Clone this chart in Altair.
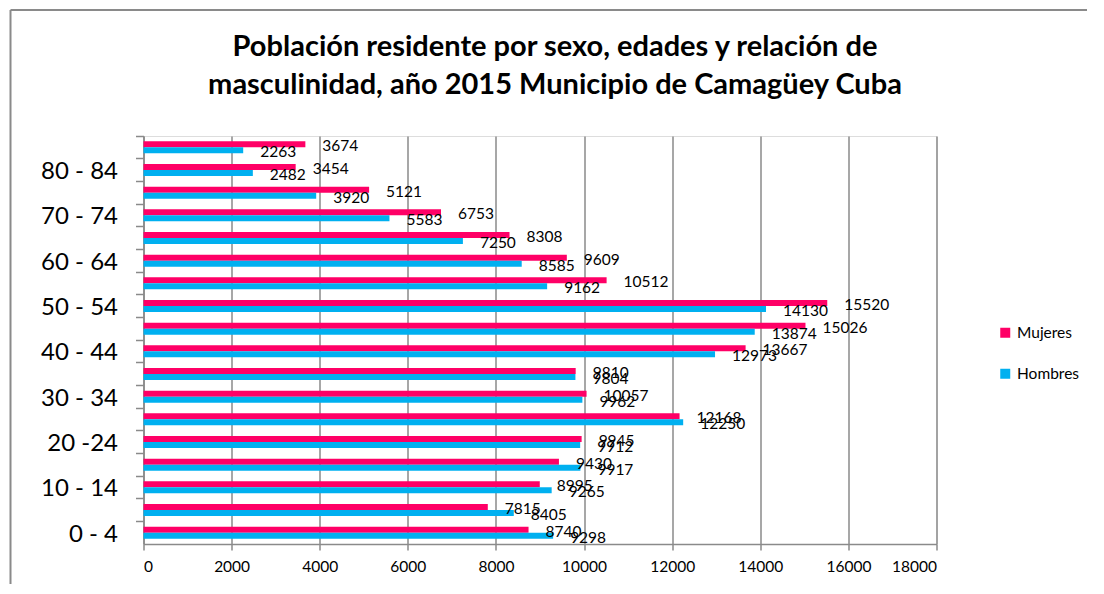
import altair as alt
import pandas as pd

# Age groups, bottom to top
edades = ["0 - 4", "5 - 9", "10 - 14", "15 - 19", "20 -24", "25 - 29", "30 - 34",
          "35 - 39", "40 - 44", "45 - 49", "50 - 54", "55 - 59", "60 - 64",
          "65 - 69", "70 - 74", "75 - 79", "80 - 84", "85 y más"]
mujeres = [8740, 7815, 8995, 9430, 9945, 12168, 10057, 9810, 13667, 15026,
           15520, 10512, 9609, 8308, 6753, 5121, 3454, 3674]
hombres = [9298, 8405, 9265, 9917, 9912, 12250, 9962, 9804, 12973, 13874,
           14130, 9162, 8585, 7250, 5583, 3920, 2482, 2263]
etiquetas_visibles = ["0 - 4", "10 - 14", "20 -24", "30 - 34", "40 - 44",
                      "50 - 54", "60 - 64", "70 - 74", "80 - 84"]
series = ["Mujeres", "Hombres"]
colores = ["#FF0066", "#00B0F0"]
ticks_x = [0, 2000, 4000, 6000, 8000, 10000, 12000, 14000, 16000, 18000]

rows = []
for e, m, h in zip(edades, mujeres, hombres):
    rows.append({"edad": e, "sexo": "Mujeres", "valor": m})
    rows.append({"edad": e, "sexo": "Hombres", "valor": h})
df = pd.DataFrame(rows)

FONT = "Lato"
orden_y = list(reversed(edades))
label_expr = "indexof(" + str(etiquetas_visibles) + ", datum.value) >= 0 ? datum.label : ''"

x_enc = alt.X("valor:Q",
              scale=alt.Scale(domain=[0, 18000], nice=False),
              axis=alt.Axis(values=ticks_x, title=None, format="d",
                            grid=True, gridColor="#8a8a8a", gridWidth=1.5,
                            domainColor="#8a8a8a", domainWidth=1.5,
                            tickColor="#8a8a8a", tickWidth=1.5, tickSize=6,
                            labelFont=FONT, labelFontSize=15.5, labelColor="#000",
                            labelPadding=9))
y_enc = alt.Y("edad:N", sort=orden_y,
              scale=alt.Scale(paddingInner=0, paddingOuter=0),
              axis=alt.Axis(title=None, labelExpr=label_expr, bandPosition=0,
                            labelOffset=2, tickSize=8, tickColor="#8a8a8a",
                            tickWidth=1.5, domainColor="#8a8a8a", domainWidth=1.5,
                            labelFont=FONT, labelFontSize=24, labelColor="#000",
                            labelPadding=18, grid=False))
yoff = alt.YOffset("sexo:N", sort=series,
                   scale=alt.Scale(paddingInner=0, paddingOuter=0.9))

bars = alt.Chart(df).mark_bar().encode(
    x=x_enc, y=y_enc, yOffset=yoff,
    color=alt.Color("sexo:N", sort=series,
                    scale=alt.Scale(domain=series, range=colores),
                    legend=alt.Legend(title=None, orient="none", legendX=854,
                                      legendY=189, symbolType="square",
                                      symbolSize=100, symbolStrokeWidth=0,
                                      labelFont=FONT, labelFontSize=15.5,
                                      labelColor="#000", rowPadding=24,
                                      labelOffset=4)),
)

labels = alt.Chart(df).mark_text(align="left", baseline="middle", dx=17, dy=2,
                                 font=FONT, fontSize=15.5, color="#000").encode(
    x="valor:Q", y=alt.Y("edad:N", sort=orden_y), yOffset=alt.YOffset("sexo:N", sort=series),
    text=alt.Text("valor:Q", format="d"),
)

# chart-area border (left and top edges, as in the reference)
frame_df = pd.DataFrame({"k": [0]})
frame_left = alt.Chart(frame_df).mark_rule(color="#8a8a8a", strokeWidth=2).encode(
    x=alt.value(-133), y=alt.value(-126), y2=alt.value(700))
frame_top = alt.Chart(frame_df).mark_rule(color="#8a8a8a", strokeWidth=2).encode(
    x=alt.value(-133), x2=alt.value(1200), y=alt.value(-126))

chart = alt.layer(frame_left, frame_top, bars, labels).properties(
    width=793, height=408,
    autosize=alt.AutoSizeParams(type="none"),
    padding={"left": 135.5, "top": 128, "right": 150, "bottom": 40},
    title=alt.TitleParams(
        ["Población residente por sexo, edades y relación de",
         "masculinidad, año 2015 Municipio de Camagüey Cuba"],
        font=FONT, fontSize=29, fontWeight="bold", color="#000",
        lineHeight=38, anchor="middle", frame="group", dx=15, offset=-91),
).configure_view(stroke=None).configure(background="white")

chart.save("out.html", embed_options={"renderer": "svg", "actions": False})
